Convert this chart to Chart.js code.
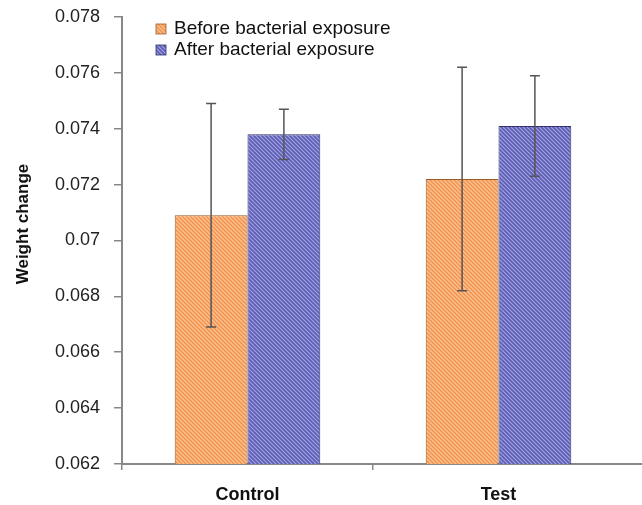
<!DOCTYPE html>
<html>
<head>
<meta charset="utf-8">
<script src="https://cdn.jsdelivr.net/npm/chart.js@4/dist/chart.umd.min.js"></script>
<style>
  html, body { margin: 0; padding: 0; background: #fff; }
  #wrap { width: 642px; height: 505px; }
</style>
</head>
<body>
<div id="wrap"><canvas id="weightChart" width="642" height="505"></canvas></div>
<script>
const groups = ["Control", "Test"];
const seriesNames = ["Before bacterial exposure", "After bacterial exposure"];
const beforeValues = [0.0709, 0.0722];
const afterValues = [0.0738, 0.0741];
const beforeErr = [0.0040, 0.0040];
const afterErr = [0.0009, 0.0018];
const yTitle = "Weight change";

// diagonal hatch fill like the old excel pattern
function hatch(base, stripe) {
    const c = document.createElement("canvas");
    c.width = 4; c.height = 4;
    const g = c.getContext("2d");
    g.fillStyle = base;
    g.fillRect(0, 0, 4, 4);
    g.strokeStyle = stripe;
    g.lineWidth = 1.2;
    g.beginPath();
    g.moveTo(-1, -1); g.lineTo(5, 5);
    g.moveTo(-1, 3); g.lineTo(1, 5);
    g.moveTo(3, -1); g.lineTo(5, 1);
    g.stroke();
    return g.createPattern(c, "repeat");
}

const FONT = "'Liberation Sans', Arial, sans-serif";
const ctx = document.getElementById("weightChart").getContext("2d");
const orangeFill = hatch("#f39450", "#fbc99c");
const blueFill = hatch("#5c5cb8", "#a4a4dc");

const errorBars = {
    id: "errorBars",
    afterDatasetsDraw(chart) {
        const c = chart.ctx;
        const y = chart.scales.y;
        const errs = [beforeErr, afterErr];
        c.save();
        c.strokeStyle = "#555";
        c.lineWidth = 1.5;
        chart.data.datasets.forEach((ds, i) => {
            chart.getDatasetMeta(i).data.forEach((bar, j) => {
                const v = ds.data[j];
                const top = y.getPixelForValue(v + errs[i][j]);
                const bot = y.getPixelForValue(v - errs[i][j]);
                c.beginPath();
                c.moveTo(bar.x, top); c.lineTo(bar.x, bot);
                c.moveTo(bar.x - 5, top); c.lineTo(bar.x + 5, top);
                c.moveTo(bar.x - 5, bot); c.lineTo(bar.x + 5, bot);
                c.stroke();
            });
        });
        c.restore();
    }
};

const extras = {
    id: "extras",
    afterDraw(chart) {
        const c = chart.ctx;
        const fills = [orangeFill, blueFill];
        const borders = ["#9a5a2a", "#30306a"];
        c.save();
        // legend, top left inside the plot
        c.font = "19px " + FONT;
        c.textBaseline = "middle";
        seriesNames.forEach((name, i) => {
            const yy = 29 + i * 21;
            c.fillStyle = fills[i];
            c.fillRect(156, yy - 5, 10, 10);
            c.strokeStyle = borders[i];
            c.lineWidth = 0.8;
            c.strokeRect(156, yy - 5, 10, 10);
            c.fillStyle = "#111";
            c.fillText(name, 174, yy);
        });
        // y title sits a bit above the middle in the original
        c.translate(23, 224);
        c.rotate(-Math.PI / 2);
        c.font = "bold 17px " + FONT;
        c.textAlign = "center";
        c.fillText(yTitle, 0, 0);
        c.restore();
        // x axis line runs on to the edge
        const a = chart.chartArea;
        c.save();
        c.strokeStyle = "#888";
        c.lineWidth = 2;
        c.beginPath();
        c.moveTo(a.right, a.bottom);
        c.lineTo(chart.width, a.bottom);
        c.stroke();
        c.restore();
    }
};

new Chart(ctx, {
    type: "bar",
    data: {
        labels: groups,
        datasets: [{
            label: seriesNames[0],
            data: beforeValues,
            backgroundColor: orangeFill,
            borderColor: "#9a5a2a",
            borderWidth: 1
        }, {
            label: seriesNames[1],
            data: afterValues,
            backgroundColor: blueFill,
            borderColor: "#30306a",
            borderWidth: 1
        }]
    },
    options: {
        responsive: false,
        animation: false,
        layout: {padding: {top: 17, right: 18, left: 0, bottom: 0}},
        categoryPercentage: 0.58,
        barPercentage: 1.0,
        scales: {
            y: {
                min: 0.062,
                max: 0.078,
                ticks: {
                    stepSize: 0.002,
                    padding: 14,
                    color: "#222",
                    font: {family: FONT, size: 18},
                    callback: v => String(+v.toFixed(3))
                },
                grid: {drawOnChartArea: false, tickLength: 8, color: "#888", lineWidth: 1.5},
                border: {color: "#888", width: 2},
                afterFit: s => {
                    s.width = 122;
                    s.paddingTop = 8;
                    s.paddingBottom = 8;
                }
            },
            x: {
                ticks: {
                    padding: 14,
                    color: "#111",
                    font: {family: FONT, size: 18, weight: "bold"}
                },
                grid: {
                    drawOnChartArea: false,
                    tickLength: 6,
                    lineWidth: 1.5,
                    color: g => g.tick ? "#888" : "rgba(0,0,0,0)"
                },
                border: {color: "#888", width: 2},
                afterFit: s => { s.height = 41; }
            }
        },
        plugins: {
            legend: {display: false},
            tooltip: {enabled: false}
        }
    },
    plugins: [errorBars, extras]
});
</script>
</body>
</html>
